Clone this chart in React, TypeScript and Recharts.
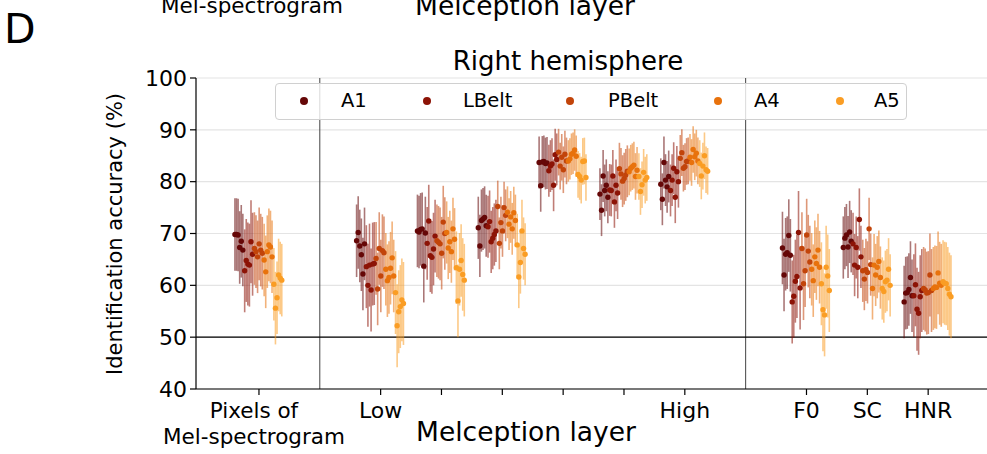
import React from "react";
import {
  ScatterChart,
  Scatter,
  XAxis,
  YAxis,
  CartesianGrid,
  ErrorBar,
  ReferenceLine,
} from "recharts";

// x positions of each feature group on the axis (1 and 8 are separators)
const groupX = [0, 2, 3, 4, 5, 6, 7, 9, 10, 11];
const groupLabels = ["Pixels of\nMel-spectrogram", "Low", "", "", "", "", "High", "F0", "SC", "HNR"];
const yTicks = [40, 50, 60, 70, 80, 90, 100];

const regions = ["A1", "LBelt", "PBelt", "A4", "A5"];
const regionColors = ["#650707", "#8c1306", "#c2440a", "#e8720c", "#fa9d24"];

// identification accuracy (%) per group, one value per subject
const a1Acc = [
  [69.8, 69.8, 69.7, 67.3, 68.5, 66.8],
  [68.6, 70.2, 67.6, 65.9, 62.2, 68.0],
  [70.5, 70.3, 70.8, 70.9, 63.7, 70.1],
  [71.1, 67.6, 72.5, 72.8, 73.1, 71.5],
  [83.7, 79.2, 83.8, 83.9, 83.5, 83.6],
  [77.6, 74.5, 81.1, 78.3, 79.3, 77.0],
  [79.5, 76.6, 83.7, 80.3, 79.0, 81.0],
  [67.2, 62.0, 66.0, 66.3, 69.6, 65.8],
  [67.3, 69.1, 69.7, 67.4, 70.3, 68.5],
  [56.8, 58.5, 58.6, 59.2, 61.5, 58.0],
];
const lbeltAcc = [
  [62.8, 64.8, 64.1, 63.9, 68.4, 66.0],
  [63.6, 60.0, 63.9, 59.1, 64.1, 64.2],
  [68.1, 72.4, 65.7, 65.4, 67.0, 69.5],
  [71.3, 72.3, 68.4, 69.1, 69.8, 70.5],
  [82.1, 83.0, 83.4, 79.3, 85.2, 84.3],
  [78.4, 78.3, 81.1, 76.1, 79.3, 77.8],
  [78.3, 80.3, 82.6, 77.0, 81.9, 80.0],
  [56.8, 57.9, 60.8, 61.7, 70.2, 59.5],
  [68.0, 63.9, 67.3, 63.5, 72.7, 65.5],
  [58.0, 60.1, 55.4, 54.6, 57.8, 59.0],
];
const pbeltAcc = [
  [67.1, 66.5, 65.5, 68.0, 66.8, 66.2],
  [65.2, 59.3, 67.1, 61.8, 66.7, 66.3],
  [68.6, 68.3, 68.0, 66.2, 72.2, 70.0],
  [75.2, 68.1, 72.1, 70.5, 75.0, 73.5],
  [85.7, 83.0, 84.7, 82.3, 85.3, 84.0],
  [82.5, 81.5, 80.1, 80.6, 81.3, 82.0],
  [84.5, 85.6, 82.6, 82.9, 83.9, 84.0],
  [67.1, 60.3, 62.8, 69.7, 66.6, 64.5],
  [62.8, 61.2, 63.0, 62.5, 70.9, 64.0],
  [59.4, 59.1, 58.5, 58.6, 62.0, 59.0],
];
const a4Acc = [
  [64.9, 62.6, 66.5, 67.8, 67.4, 65.5],
  [63.1, 60.9, 61.5, 63.3, 65.3, 61.8],
  [70.2, 67.2, 68.4, 66.5, 70.9, 68.9],
  [74.1, 71.8, 73.2, 70.9, 74.0, 72.5],
  [84.0, 84.4, 85.3, 85.5, 86.1, 84.9],
  [81.9, 82.6, 82.9, 83.2, 81.0, 82.2],
  [84.7, 83.7, 86.2, 84.8, 85.5, 84.0],
  [63.1, 60.9, 65.5, 64.2, 66.8, 63.5],
  [59.4, 63.9, 62.0, 63.5, 64.6, 61.5],
  [59.4, 59.7, 59.6, 62.4, 60.4, 60.0],
];
const a5Acc = [
  [60.2, 55.6, 57.6, 62.0, 61.4, 61.0],
  [58.6, 52.2, 54.9, 55.9, 57.2, 56.5],
  [63.4, 57.0, 63.1, 64.8, 62.1, 61.0],
  [67.8, 61.6, 64.4, 70.5, 67.1, 66.0],
  [81.4, 81.0, 80.3, 83.9, 84.0, 80.8],
  [81.0, 78.1, 79.4, 81.8, 80.3, 80.8],
  [83.5, 81.1, 83.0, 85.0, 82.3, 82.0],
  [60.3, 55.3, 54.3, 63.5, 61.8, 59.0],
  [59.4, 58.8, 60.7, 61.0, 63.1, 60.0],
  [60.7, 60.4, 60.3, 59.4, 58.3, 57.8],
];

// half-length of the error bars per group
const a1Err = [7, 7, 7, 6, 5, 5, 5, 7, 6, 7];
const lbeltErr = [8, 8, 7, 6, 5, 5, 5, 8, 6, 8];
const pbeltErr = [7, 7, 7, 5, 4.5, 5, 4.5, 7, 6, 8];
const a4Err = [7, 7, 6, 5, 4, 4.5, 4.5, 7, 6, 8];
const a5Err = [7, 8, 7, 6, 4.5, 4.5, 4.5, 8, 6, 8];

const regionAcc = [a1Acc, lbeltAcc, pbeltAcc, a4Acc, a5Acc];
const regionErr = [a1Err, lbeltErr, pbeltErr, a4Err, a5Err];
const regionOffset = [-0.33, -0.17, -0.01, 0.15, 0.31];
const pointStep = 0.026;

function buildSeries(r: number) {
  const out: { x: number; y: number; err: number }[] = [];
  groupX.forEach((gx, g) => {
    regionAcc[r][g].forEach((v, j) => {
      out.push({ x: gx + regionOffset[r] + (j - 2.5) * pointStep, y: v, err: regionErr[r][g] });
    });
  });
  return out;
}

const FONT = "'DejaVu Sans', Verdana, sans-serif";

function XTick(props: any) {
  const { x, y, payload } = props;
  const idx = groupX.indexOf(payload.value);
  const label = idx >= 0 ? groupLabels[idx] : "";
  if (!label) return null;
  const lines = label.split("\n");
  // the two-line label sits a little left of its tick in the figure
  const cx = lines.length > 1 ? x - 5 : x;
  return (
    <g>
      {lines.map((ln, i) => (
        <text
          key={i}
          x={cx}
          y={y + 21 + i * 26}
          textAnchor="middle"
          fontSize={lines.length > 1 ? 21.5 : 22}
          fill="#000"
          fontFamily={FONT}
        >
          {ln}
        </text>
      ))}
    </g>
  );
}

function Dot(color: string) {
  return (p: any) => <circle cx={p.cx} cy={p.cy} r={2.7} fill={color} />;
}

export default function App() {
  return (
    <div
      style={{
        position: "fixed",
        left: 0,
        top: 0,
        width: 987,
        height: 454,
        overflow: "hidden",
        background: "#fff",
        fontFamily: FONT,
      }}
    >
      <ScatterChart width={1000} height={454} margin={{ top: 78, right: 11, bottom: 5, left: 0 }}>
        <CartesianGrid horizontal vertical={false} stroke="#e4e4e4" strokeWidth={1.2} />
        <XAxis
          type="number"
          dataKey="x"
          domain={[-1.035, 12]}
          ticks={[0, 2, 3, 4, 5, 6, 7, 9, 10, 11]}
          interval={0}
          height={60}
          stroke="#000"
          strokeWidth={1.2}
          tickSize={6}
          tickMargin={2}
          tick={<XTick />}
          allowDataOverflow
        />
        <YAxis
          type="number"
          dataKey="y"
          domain={[40, 100]}
          ticks={yTicks}
          interval={0}
          width={196}
          stroke="#000"
          strokeWidth={1.2}
          tickSize={6}
          tickMargin={3}
          tick={{ fontSize: 22, fill: "#000", fontFamily: FONT }}
        />
        <ReferenceLine x={1} stroke="#444" strokeWidth={1} />
        <ReferenceLine x={8} stroke="#444" strokeWidth={1} />
        <ReferenceLine y={50} stroke="#000" strokeWidth={1.4} />
        {regions.map((name, r) => (
          <Scatter
            key={name}
            name={name}
            data={buildSeries(r)}
            fill={regionColors[r]}
            shape={Dot(regionColors[r])}
            isAnimationActive={false}
          >
            <ErrorBar
              dataKey="err"
              direction="y"
              width={0}
              stroke={regionColors[r]}
              strokeOpacity={0.55}
              strokeWidth={1.6}
              isAnimationActive={false}
            />
          </Scatter>
        ))}
      </ScatterChart>

      {/* texts around the axes; the top two belong to the panel above and are cut in the figure */}
      <svg width={987} height={454} style={{ position: "absolute", left: 0, top: 0, pointerEvents: "none" }}>
        <text x={4} y={43} fontSize={41} fill="#000" fontFamily={FONT}>D</text>
        <text x={252} y={13} fontSize={21.5} textAnchor="middle" fill="#000" fontFamily={FONT}>Mel-spectrogram</text>
        <text x={525} y={15} fontSize={26.5} textAnchor="middle" fill="#000" fontFamily={FONT}>Melception layer</text>
        <text x={568} y={70} fontSize={26} textAnchor="middle" fill="#000" fontFamily={FONT}>Right hemisphere</text>
        <text
          x={0}
          y={0}
          transform="translate(122 234) rotate(-90)"
          fontSize={21}
          textAnchor="middle"
          fill="#000"
          fontFamily={FONT}
        >
          Identification accuracy (%)
        </text>
        <text x={526} y={441} fontSize={26.5} textAnchor="middle" fill="#000" fontFamily={FONT}>Melception layer</text>
      </svg>

      {/* legend */}
      <div
        style={{
          position: "absolute",
          left: 275,
          top: 83,
          width: 632,
          height: 37,
          boxSizing: "border-box",
          border: "1px solid #d0d0d0",
          borderRadius: 4,
          background: "rgba(255,255,255,0.8)",
          fontSize: 19.5,
          color: "#000",
        }}
      >
        {regions.map((name, r) => {
          const markerX = [28, 151, 294, 442, 564][r];
          const textX = [65, 187, 332, 478, 598][r];
          return (
            <React.Fragment key={name}>
              <span
                style={{
                  position: "absolute",
                  left: markerX - 4,
                  top: 13,
                  width: 8,
                  height: 8,
                  borderRadius: "50%",
                  background: regionColors[r],
                }}
              />
              <span style={{ position: "absolute", left: textX, top: 5, lineHeight: "24px" }}>{name}</span>
            </React.Fragment>
          );
        })}
      </div>
    </div>
  );
}
